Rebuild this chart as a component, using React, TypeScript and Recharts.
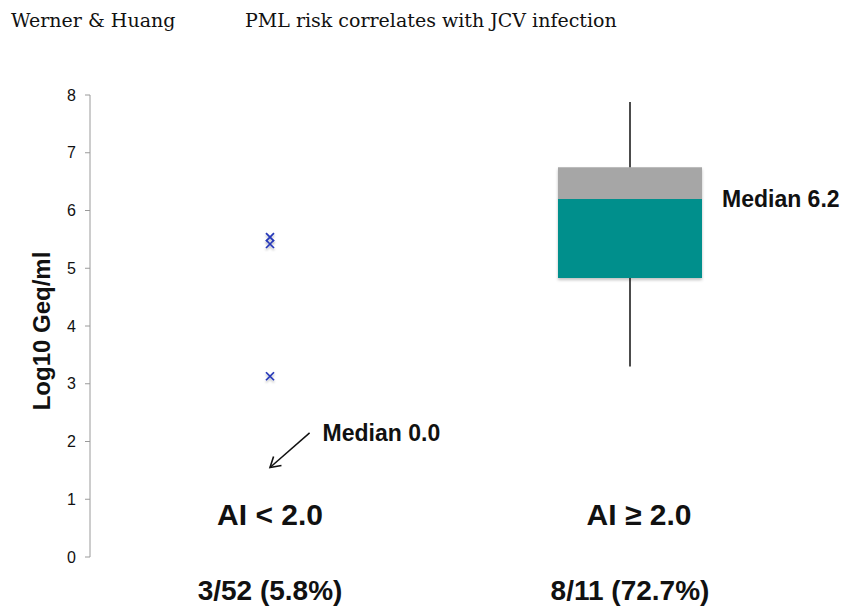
import {
    ComposedChart, XAxis, YAxis, Scatter, ReferenceArea, ReferenceLine, ReferenceDot
} from 'recharts'

const FONT = '"Liberation Sans", Arial, sans-serif'

// groups sit at x = 1 and x = 2
const groupX = [1, 2]
const groupNames = ['AI < 2.0', 'AI ≥ 2.0']
const groupCounts = ['3/52 (5.8%)', '8/11 (72.7%)']
const yTicks = [0, 1, 2, 3, 4, 5, 6, 7, 8]

// AI < 2.0 : the three positive samples (log10 Geq/ml)
const lowAiValues = [5.54, 5.42, 3.13]
const lowAiMedian = 0.0

// AI >= 2.0 : box plot summary [min, q1, median, q3, max]
const highAiSummary = [3.3, 4.83, 6.2, 6.75, 7.88]

const lowAiPoints = lowAiValues.map(v => ({ x: groupX[0], y: v }))
const [hMin, hQ1, hMed, hQ3, hMax] = highAiSummary

const Cross = (props: any) => {
    const { cx, cy } = props
    const s = 4
    return (
        <g filter="url(#markShadow)">
            <line x1={cx - s} y1={cy - s} x2={cx + s} y2={cy + s} stroke="#2638b8" strokeWidth={1.7} />
            <line x1={cx - s} y1={cy + s} x2={cx + s} y2={cy - s} stroke="#2638b8" strokeWidth={1.7} />
        </g>
    )
}

const CountTick = (props: any) => {
    const { x, y, payload } = props
    return (
        <text x={x} y={y} dy="0.71em" textAnchor="middle" fontFamily={FONT} fontSize={28} fontWeight="bold" fill="#111">
            {groupCounts[groupX.indexOf(payload.value)]}
        </text>
    )
}

const YLabel = () => (
    <g>
        <defs>
            <filter id="markShadow" x="-50%" y="-50%" width="200%" height="200%">
                <feDropShadow dx="0" dy="2" stdDeviation="1.2" floodColor="#000" floodOpacity="0.25" />
            </filter>
            <filter id="boxShadow" x="-10%" y="-10%" width="120%" height="125%">
                <feDropShadow dx="0" dy="2" stdDeviation="1.5" floodColor="#000" floodOpacity="0.25" />
            </filter>
            <marker id="arrowHead" markerUnits="userSpaceOnUse" markerWidth={14} markerHeight={14} refX={11} refY={7} orient="auto">
                <path d="M1,1 L11,7 L1,13" fill="none" stroke="#111" strokeWidth={1.6} />
            </marker>
        </defs>
        <text x={50} y={331} transform="rotate(-90 50 331)" textAnchor="middle" fontFamily={FONT} fontSize={24} fontWeight="bold" fill="#111">
            Log10 Geq/ml
        </text>
    </g>
)

const ArrowShape = (props: any) => {
    const { x1, y1, x2, y2 } = props
    return <line x1={x1} y1={y1} x2={x2} y2={y2} stroke="#111" strokeWidth={1.5} markerEnd="url(#arrowHead)" />
}

const bigLabel = (text: string, size: number) => ({
    value: text,
    position: 'center' as const,
    fontFamily: FONT,
    fontSize: size,
    fontWeight: 'bold',
    fill: '#111',
})

const titleStyle = {
    position: 'absolute' as const,
    top: 11,
    fontFamily: '"DejaVu Serif", serif',
    fontSize: 19,
    lineHeight: '19px',
    color: '#111',
    whiteSpace: 'nowrap' as const,
}

export default function App() {
    return (
        <div style={{ position: 'absolute', left: 0, top: 0, width: 856, height: 609, background: '#fff' }}>
            <div style={{ ...titleStyle, left: 11 }}>Werner &amp; Huang</div>
            <div style={{ ...titleStyle, left: 245 }}>PML risk correlates with JCV infection</div>
            <ComposedChart width={856} height={609} margin={{ top: 95, right: 46, bottom: 2, left: 30 }}>
                <XAxis
                    type="number"
                    dataKey="x"
                    domain={[0.5, 2.5]}
                    ticks={groupX}
                    axisLine={false}
                    tickLine={false}
                    tickSize={0}
                    tickMargin={23}
                    height={50}
                    tick={<CountTick />}
                />
                <YAxis
                    type="number"
                    dataKey="y"
                    domain={[0, 8]}
                    ticks={yTicks}
                    width={60}
                    stroke="#9a9a9a"
                    tickSize={5}
                    tickMargin={9}
                    tick={{ fill: '#111', fontSize: 16, fontFamily: FONT }}
                    label={{ content: () => <YLabel /> }}
                />

                {/* box for AI >= 2.0 */}
                <ReferenceLine segment={[{ x: groupX[1], y: hMin }, { x: groupX[1], y: hQ1 }]} stroke="#111" strokeWidth={1.5} />
                <ReferenceLine segment={[{ x: groupX[1], y: hQ3 }, { x: groupX[1], y: hMax }]} stroke="#111" strokeWidth={1.5} />
                <ReferenceArea x1={groupX[1] - 0.2} x2={groupX[1] + 0.2} y1={hQ1} y2={hQ3} fill="#ffffff" fillOpacity={1} stroke="none" filter="url(#boxShadow)" />
                <ReferenceArea x1={groupX[1] - 0.2} x2={groupX[1] + 0.2} y1={hQ1} y2={hMed} fill="#008f8c" fillOpacity={1} stroke="none" />
                <ReferenceArea x1={groupX[1] - 0.2} x2={groupX[1] + 0.2} y1={hMed} y2={hQ3} fill="#a6a6a6" fillOpacity={1} stroke="none" />
                <ReferenceDot
                    x={groupX[1] + 0.2}
                    y={hMed}
                    r={1}
                    fill="none"
                    stroke="none"
                    label={{ value: `Median ${hMed.toFixed(1)}`, position: 'right', offset: 19, fontFamily: FONT, fontSize: 23, fontWeight: 'bold', fill: '#111' }}
                />

                {/* annotation for AI < 2.0 median */}
                <ReferenceLine segment={[{ x: 1.11, y: 2.15 }, { x: 1.0, y: 1.55 }]} shape={<ArrowShape />} />
                <ReferenceDot
                    x={1.11}
                    y={2.15}
                    r={1}
                    fill="none"
                    stroke="none"
                    label={{ value: `Median ${lowAiMedian.toFixed(1)}`, position: 'right', offset: 12, fontFamily: FONT, fontSize: 23, fontWeight: 'bold', fill: '#111' }}
                />

                {/* group names */}
                <ReferenceDot x={groupX[0]} y={0.73} r={1} fill="none" stroke="none" label={bigLabel(groupNames[0], 30)} />
                <ReferenceDot x={groupX[1] + 0.025} y={0.73} r={1} fill="none" stroke="none" label={bigLabel(groupNames[1], 30)} />

                <Scatter data={lowAiPoints} shape={<Cross />} isAnimationActive={false} />
            </ComposedChart>
        </div>
    )
}
